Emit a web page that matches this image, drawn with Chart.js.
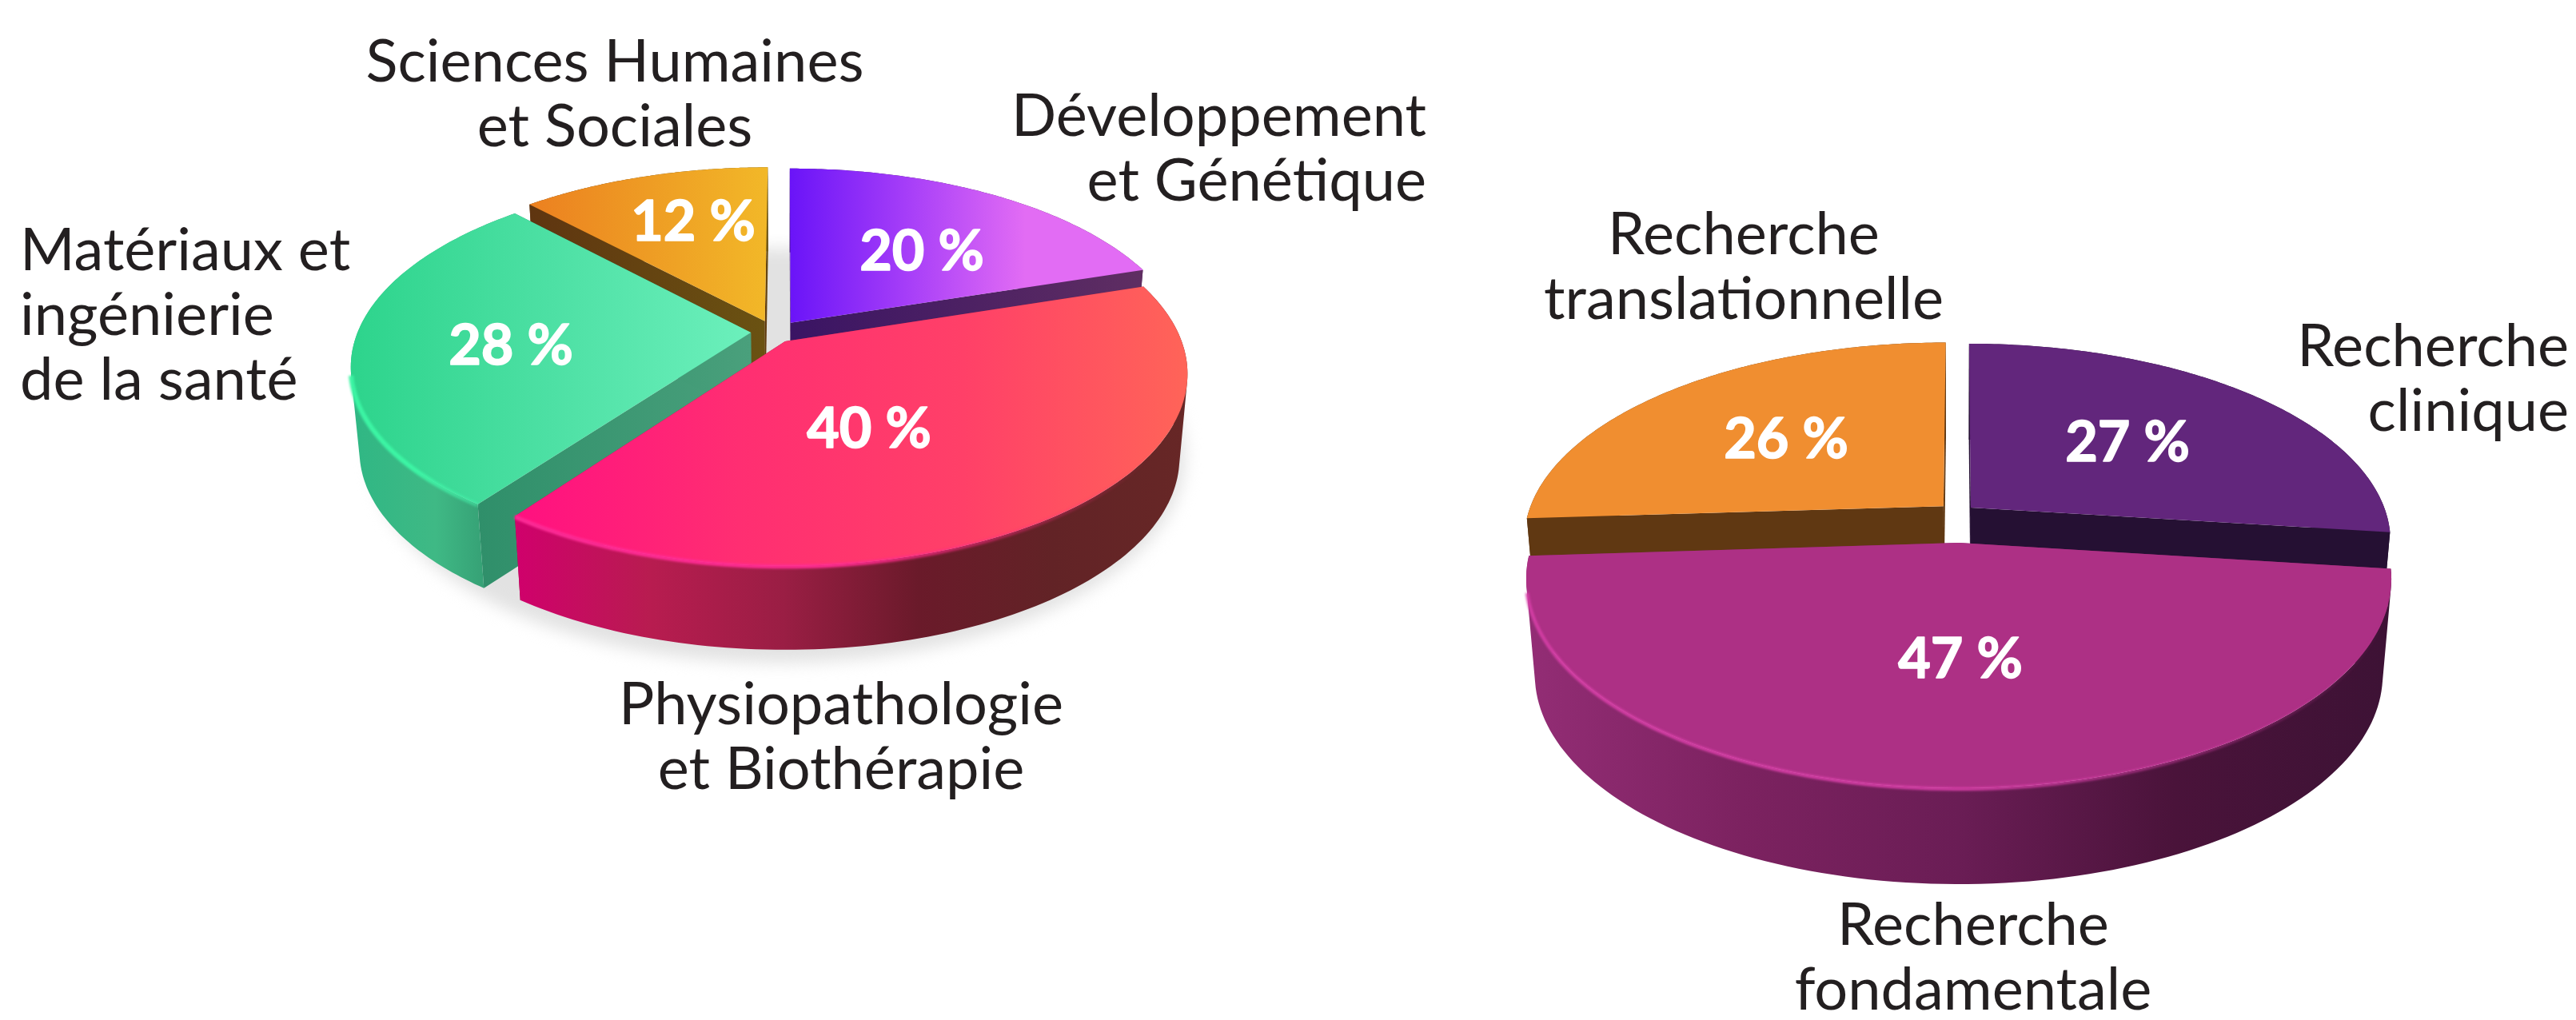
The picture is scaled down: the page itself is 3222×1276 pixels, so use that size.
<!DOCTYPE html>
<html lang="fr">
<head>
<meta charset="utf-8">
<title>Répartition</title>
<script src="https://cdn.jsdelivr.net/npm/chart.js@4"></script>
<style>
  html, body { margin: 0; background: #fff; overflow: hidden; width: 3222px; height: 1276px; }
  canvas { position: absolute; top: 0; filter: blur(0.6px); }
  #pieLeft { left: 0; }
  #pieRight { left: 1678px; }
</style>
</head>
<body>
<canvas id="pieLeft" width="1964" height="1276"></canvas>
<canvas id="pieRight" width="1544" height="1276"></canvas>
<script>
// values
const themeLabels = [
  ['Développement', 'et Génétique'],
  ['Physiopathologie', 'et Biothérapie'],
  ['Matériaux et', 'ingénierie', 'de la santé'],
  ['Sciences Humaines', 'et Sociales']
];
const themeShares = [20, 40, 28, 12];

const researchLabels = [
  ['Recherche', 'clinique'],
  ['Recherche', 'fondamentale'],
  ['Recherche', 'translationnelle']
];
const researchShares = [27, 47, 26];

const FONT = 'Lato, Carlito, "Open Sans", sans-serif';

// pie chart seen in perspective: the library gives the angles and the radius, this plugin projects them
function project(o, el, s, a, r, level) {
  const u = s.u + r * Math.cos(a), v = s.v + r * Math.sin(a);
  const p = 1 / (1 - o.persp * v);
  const R = el.outerRadius;
  return {
    x: el.x + R * u * p * (level ? 1 - o.taper : 1),
    y: el.y + R * o.tilt * v * p + o.depth * level
  };
}

function arcPoints(o, el, s, level) {
  const pts = [];
  const n = 120;
  for (let i = 0; i <= n; i++) {
    pts.push(project(o, el, s, el.startAngle + (el.endAngle - el.startAngle) * i / n, 1, level));
  }
  return pts;
}

function xGradient(ctx, pts, stops) {
  const xs = pts.map(p => p.x);
  const g = ctx.createLinearGradient(Math.min(...xs), 0, Math.max(...xs), 0);
  stops.forEach((c, i) => g.addColorStop(i / (stops.length - 1), c));
  return g;
}

function tracePoly(ctx, pts) {
  pts.forEach((p, i) => i ? ctx.lineTo(p.x, p.y) : ctx.moveTo(p.x, p.y));
  ctx.closePath();
}

function fillPoly(ctx, pts, stops) {
  ctx.fillStyle = xGradient(ctx, pts, stops);
  ctx.beginPath();
  tracePoly(ctx, pts);
  ctx.fill();
}

// wall between the two rims, as quads of the same winding so the outline stays a clean union
function fillWall(ctx, top, bottom, stops) {
  ctx.fillStyle = xGradient(ctx, top.concat(bottom), stops);
  ctx.beginPath();
  for (let i = 0; i < top.length - 1; i++) {
    let q = [top[i], top[i + 1], bottom[i + 1], bottom[i]];
    let area = 0;
    q.forEach((p, k) => {
      const n = q[(k + 1) % 4];
      area += p.x * n.y - n.x * p.y;
    });
    if (area < 0) q = q.reverse();
    tracePoly(ctx, q);
  }
  ctx.fill();
}

const pie3d = {
  id: 'pie3d',
  beforeDatasetsDraw(chart, args, o) {
    const ctx = chart.ctx;
    const arcs = chart.getDatasetMeta(0).data;

    if (o.shadow) {
      const el = arcs[0], sh = o.shadow;
      const full = { x: el.x + sh.dx, y: el.y + sh.dy, outerRadius: el.outerRadius * sh.scaleX,
        startAngle: 0, endAngle: Math.PI * 2 };
      const flat = { persp: o.persp, taper: 0, depth: 0, tilt: o.tilt * sh.scaleY / sh.scaleX };
      ctx.save();
      ctx.filter = 'blur(' + sh.blur + 'px)';
      ctx.fillStyle = sh.color;
      ctx.beginPath();
      tracePoly(ctx, arcPoints(flat, full, { u: 0, v: 0 }, 0));
      ctx.fill();
      ctx.restore();
    }

    o.order.forEach(i => {
      const el = arcs[i], st = o.slices[i], s = st.shift;
      const top = arcPoints(o, el, s, 0), bottom = arcPoints(o, el, s, 1);
      const c0 = project(o, el, s, 0, 0, 0), c1 = project(o, el, s, 0, 0, 1);

      // the two cut faces, then the outer wall, then the top face
      fillPoly(ctx, [c0, top[0], bottom[0], c1], st.cut);
      fillPoly(ctx, [c0, top[top.length - 1], bottom[bottom.length - 1], c1], st.cut);
      fillWall(ctx, top, bottom, st.wall);
      fillPoly(ctx, [c0].concat(top), st.top);

      if (st.rim) {
        const vis = top.filter(p => p.y > el.y + st.rim.above);
        ctx.save();
        ctx.filter = 'blur(1.5px)';
        ctx.strokeStyle = xGradient(ctx, vis, st.rim.stops);
        ctx.lineWidth = st.rim.width;
        ctx.beginPath();
        vis.forEach((p, k) => k ? ctx.lineTo(p.x, p.y + 1) : ctx.moveTo(p.x, p.y + 1));
        ctx.stroke();
        ctx.restore();
      }
    });
    return false;
  },
  afterDraw(chart, args, o) {
    const ctx = chart.ctx;
    const values = chart.data.datasets[0].data;
    ctx.save();
    ctx.textBaseline = 'alphabetic';
    chart.data.labels.forEach((lines, i) => {
      const t = o.slices[i].name;
      ctx.font = o.nameSize + 'px ' + FONT;
      ctx.fillStyle = '#231f20';
      ctx.textAlign = t.align;
      lines.forEach((line, k) => ctx.fillText(line, t.x, t.y + k * o.lineGap));

      // the originals are heavier than Lato Bold, so a thin stroke thickens them
      const v = o.slices[i].value;
      ctx.font = 'bold ' + o.valueSize + 'px ' + FONT;
      ctx.fillStyle = '#fff';
      ctx.strokeStyle = '#fff';
      ctx.lineWidth = 1.6;
      ctx.lineJoin = 'round';
      ctx.textAlign = 'center';
      ctx.strokeText(values[i] + ' %', v.x, v.y);
      ctx.fillText(values[i] + ' %', v.x, v.y);
    });
    ctx.restore();
  }
};

new Chart(document.getElementById('pieLeft'), {
  type: 'pie',
  plugins: [pie3d],
  data: {
    labels: themeLabels,
    datasets: [{
      data: themeShares,
      radius: 496,
      borderWidth: 0,
      backgroundColor: ['#a83cf8', '#ff3c6c', '#4de0a4', '#ee9c24']
    }]
  },
  options: {
    responsive: false,
    animation: false,
    layout: { padding: { bottom: 422 } },
    plugins: {
      legend: { display: false },
      tooltip: { enabled: false },
      pie3d: {
        tilt: 0.47, persp: 0.17, depth: 105, taper: 0.02,
        nameSize: 74, valueSize: 70, lineGap: 81,
        order: [0, 3, 2, 1],
        shadow: { dx: -8, dy: 99, scaleX: 1.01, scaleY: 1.08, blur: 10, color: '#e2e2e2' },
        slices: [
          { shift: { u: 0.014, v: -0.101 },
            top: ['#6a14f8', '#a63ef8', '#e26cf4', '#e26cf4'],
            wall: ['#3a1464', '#5f2e62'], cut: ['#3a1464', '#5f2e62'],
            name: { x: 1784, y: 170, align: 'right' }, value: { x: 1153, y: 338 } },
          { shift: { u: 0, v: 0 },
            top: ['#ff1080', '#ff2e72', '#ff4068', '#ff6458'],
            wall: ['#d0006c', '#b81c50', '#9a1e44', '#6a1a2a', '#622326', '#672726'], cut: ['#8a1a3a', '#8a1a3a'],
            rim: { above: 140, width: 5, stops: ['#ff2c98', '#ff2c90', 'rgba(255,44,120,0)'] },
            name: { x: 1052, y: 906, align: 'center' }, value: { x: 1087, y: 560 } },
          { shift: { u: -0.087, v: -0.048 },
            top: ['#2dd48c', '#4de0a4', '#6cf0bc'],
            wall: ['#2fb784', '#3fb985', '#2f8f6a'], cut: ['#2f8f6a', '#4aa07c'],
            rim: { above: 40, width: 6, stops: ['#3cf5a4', '#3cf5a4', 'rgba(70,240,170,0.5)'] },
            name: { x: 25, y: 338, align: 'left' }, value: { x: 639, y: 456 } },
          { shift: { u: -0.052, v: -0.11 },
            top: ['#ec8020', '#ee9c24', '#f2b828'],
            wall: ['#5f3510', '#6a5212'], cut: ['#5f3510', '#6a5212'],
            name: { x: 769, y: 102, align: 'center' }, value: { x: 867, y: 301 } }
        ]
      }
    }
  }
});

new Chart(document.getElementById('pieRight'), {
  type: 'pie',
  plugins: [pie3d],
  data: {
    labels: researchLabels,
    datasets: [{
      data: researchShares,
      radius: 533,
      borderWidth: 0,
      backgroundColor: ['#62267c', '#ad3085', '#f08e30']
    }]
  },
  options: {
    responsive: false,
    animation: false,
    layout: { padding: { top: 82 } },
    plugins: {
      legend: { display: false },
      tooltip: { enabled: false },
      pie3d: {
        tilt: 0.477, persp: 0.172, depth: 120, taper: 0.02,
        nameSize: 74, valueSize: 70, lineGap: 81,
        order: [0, 2, 1],
        slices: [
          { shift: { u: 0.029, v: -0.178 },
            top: ['#62267c', '#62267c'],
            wall: ['#251033', '#251033'], cut: ['#251033', '#251033'],
            name: { x: 1535, y: 458, align: 'right' }, value: { x: 983, y: 577 } },
          { shift: { u: 0, v: 0 },
            top: ['#ad3085', '#ad3085'],
            wall: ['#932d75', '#7c2260', '#6a1d55', '#4a133a', '#3d1235'], cut: ['#7c2260', '#7c2260'],
            rim: { above: 60, width: 4, stops: ['#d83fa8', '#d83fa8', 'rgba(216,63,168,0)'] },
            name: { x: 790, y: 1182, align: 'center' }, value: { x: 774, y: 848 } },
          { shift: { u: -0.037, v: -0.186 },
            top: ['#f08e30', '#f08e30'],
            wall: ['#603812', '#603812'], cut: ['#603812', '#603812'],
            name: { x: 503, y: 318, align: 'center' }, value: { x: 556, y: 573 } }
        ]
      }
    }
  }
});
</script>
</body>
</html>
